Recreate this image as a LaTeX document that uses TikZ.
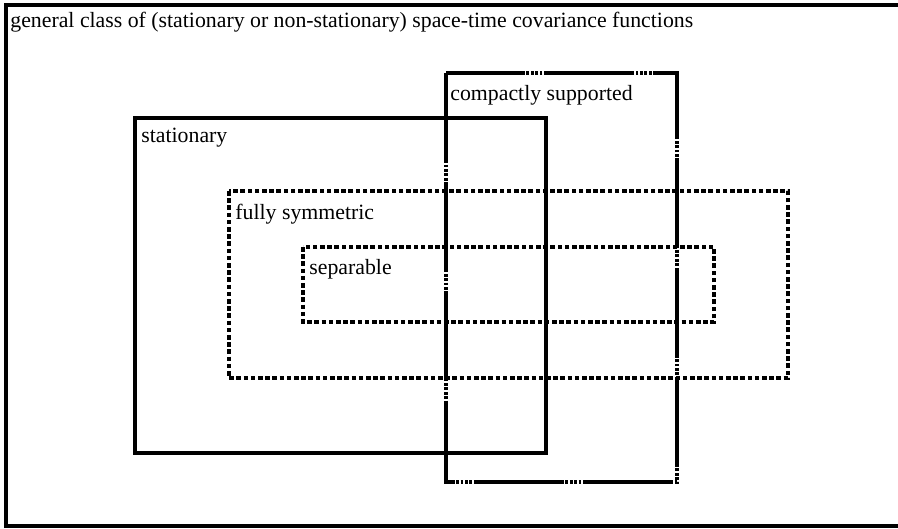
\documentclass[tikz,border=0pt]{standalone}
\usepackage{fontspec}
\setmainfont{Liberation Serif}
\usetikzlibrary{positioning}
\begin{document}
\begin{tikzpicture}[x=0.5pt,y=-0.5pt]
	\tikzstyle{lbl}=[anchor=base west, inner sep=0pt, font=\fontsize{10.9}{13}\selectfont]
	\tikzstyle{solidbox}=[line width=1.6pt]
	\tikzstyle{dashbox}=[line width=1.6pt, dash pattern=on 2.3pt off 1.3pt]
	\tikzstyle{supbox}=[line width=1.8pt, dash pattern=on 45pt off 0.8pt on 1.4pt off 0.8pt on 1.4pt off 0.8pt on 1.4pt off 0.8pt on 1.4pt off 0.8pt]
	\useasboundingbox (0,0) rectangle (898,529);
	% outer class
	\draw[line width=2.2pt] (898,5) -- (6,5) -- (6,526) -- (898,526);
	\node[lbl] (general) at (10,28) {general class of (stationary or non-stationary) space-time covariance functions};
	% subclasses
	\draw[solidbox] (135,118) rectangle (546,453);
	\draw[supbox] (446,73) rectangle (677,482);
	\draw[dashbox] (229,191) rectangle (788,378);
	\draw[dashbox] (303,247) rectangle (714,322);
	\node[lbl] (stat) at (141,143) {stationary};
	\node[lbl] (comp) at (450,101) {compactly supported};
	\node[lbl] (sym)  at (235,220) {fully symmetric};
	\node[lbl] (sep)  at (309,274) {separable};
\end{tikzpicture}
\end{document}
